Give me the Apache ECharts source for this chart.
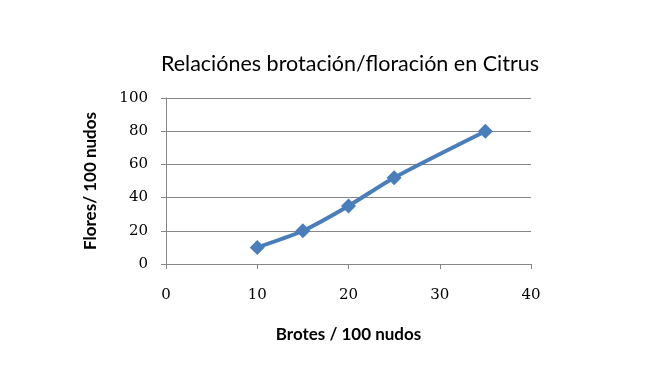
<!DOCTYPE html>
<html>
<head>
<meta charset="utf-8">
<script src="https://cdn.jsdelivr.net/npm/echarts@6/dist/echarts.min.js"></script>
<style>html,body{margin:0;padding:0;background:#fff}#c{width:671px;height:392px}</style>
</head>
<body>
<div id="c"></div>
<script>
const brotes = [10, 15, 20, 25, 35];
const flores = [10, 20, 35, 52, 80];
const titleText = 'Relaciónes brotación/floración en Citrus';
const xName = 'Brotes / 100 nudos';
const yName = 'Flores/ 100 nudos';

const chart = echarts.init(document.getElementById('c'));
chart.setOption({
  animation: false,
  title: {
    text: titleText, left: 345, textAlign: 'center', top: 48,
    textStyle: {fontFamily: 'Lato', fontSize: 21.5, fontWeight: 'normal', color: '#000'}
  },
  grid: {left: 166, right: 140, top: 98, bottom: 128},
  xAxis: {
    type: 'value', min: 0, max: 40, interval: 10,
    name: xName, nameLocation: 'middle', nameGap: 62,
    nameTextStyle: {fontFamily: 'Lato', fontSize: 17, fontWeight: 'bold', color: '#000'},
    axisLine: {lineStyle: {color: '#868686'}},
    axisTick: {show: true, length: 5, lineStyle: {color: '#868686'}},
    axisLabel: {fontFamily: 'DejaVu Serif', fontSize: 15, color: '#000', margin: 24},
    splitLine: {show: false}
  },
  yAxis: {
    type: 'value', min: 0, max: 100, interval: 20,
    name: yName, nameLocation: 'middle', nameGap: 67, nameRotate: 90,
    nameTextStyle: {fontFamily: 'Lato', fontSize: 17, fontWeight: 'bold', color: '#000'},
    axisLine: {show: true, lineStyle: {color: '#868686'}},
    axisTick: {show: true, length: 5, lineStyle: {color: '#868686'}},
    axisLabel: {fontFamily: 'DejaVu Serif', fontSize: 15, color: '#000', margin: 18},
    splitLine: {lineStyle: {color: '#868686'}}
  },
  series: [{
    type: 'line',
    data: brotes.map((b, i) => [b, flores[i]]),
    smooth: 0.25,
    symbol: 'diamond', symbolSize: 15,
    lineStyle: {color: '#4A7EBB', width: 4},
    itemStyle: {color: '#4A7EBB'}
  }]
});
</script>
</body>
</html>
